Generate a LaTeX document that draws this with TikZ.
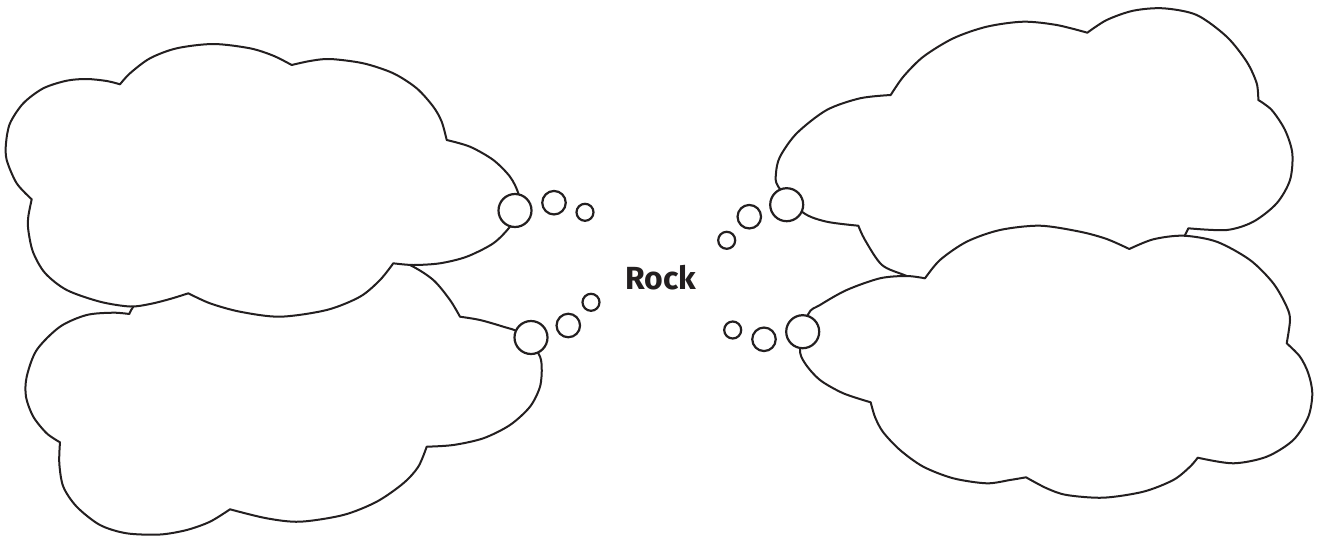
\documentclass[tikz,border=0pt]{standalone}
\usepackage{fontspec}
\setsansfont{Fira Sans}
\usepackage{xcolor}
\definecolor{inkblack}{RGB}{35,31,32}

\begin{document}
\begin{tikzpicture}[x=1pt, y=-1pt,
    cloud/.style={draw=inkblack, fill=white, line width=2pt, line join=round},
    bubble/.style={circle, draw=inkblack, fill=white, line width=2.2pt, inner sep=0pt},
    big/.style={bubble, minimum size=33pt},
    mid/.style={bubble, minimum size=23.5pt},
    small/.style={bubble, minimum size=17pt}]
  \useasboundingbox (0,0) rectangle (1317,536);

  % lower left cloud (behind)
  \draw[cloud] plot[smooth] coordinates {(129.3,314) (133.3,306.7) (150,285) (190,270) (250,266)}
    -- plot[smooth] coordinates {(250,266) (320,246) (375,251) (410,265) (433.3,280) (450,300) (460,316.7)}
    -- plot[smooth] coordinates {(460,316.7) (480,320) (503.3,326.7) (520,333) (538.3,353.3) (541.7,366.7) (540,386.7) (530,406.7) (510,425) (483.3,438.3) (453.3,445) (426.7,446.7)}
    -- plot[smooth] coordinates {(426.7,446.7) (418.3,466.7) (403.3,483.3) (376.7,501.7) (343.3,515) (300,521.7) (266.7,518.3) (230,509.3)}
    -- plot[smooth] coordinates {(230,509.3) (210,521.7) (186.7,530) (160,534.5) (126.7,533.3) (100,525) (76.7,506.7) (63.3,486.7) (59.3,463.3) (60,442.3)}
    -- plot[smooth] coordinates {(60,442.3) (46.7,433.3) (33.3,416.7) (26,396.7) (26.7,376.7) (36.7,350) (60,326.7) (86.7,315) (113.3,312.7) (129.3,314)}
    -- cycle;

  % upper left cloud
  \draw[cloud] plot[smooth] coordinates {(31.7,199.3) (16.7,183.3) (6.7,160) (6,143.3) (10,123.3) (23.3,103.3) (43.3,88.3) (66.7,80.7) (86.7,79) (106.7,81) (120,84.3)}
    -- plot[smooth] coordinates {(120,84.3) (130,73.3) (150,58.3) (176.7,48.3) (213.3,44) (250,48.3) (273.3,55.7) (291.7,65)}
    -- plot[smooth] coordinates {(291.7,65) (310,61) (330,59) (363.3,63.3) (393.3,73.3) (416.7,88.3) (433.3,106.7) (441.7,121.7) (446.7,140)}
    -- plot[smooth] coordinates {(446.7,140) (470,146.7) (493.3,160) (510,176.7) (518.3,193.3) (520,210) (510,226.7) (493.3,243.3) (466.7,256.7) (440,263.3) (413.3,265) (393.3,263.3)}
    -- plot[smooth] coordinates {(393.3,263.3) (380,280) (360,296.7) (326.7,310) (280,316.7) (240,311.7) (210,303.3) (188.3,293.3)}
    -- plot[smooth] coordinates {(188.3,293.3) (170,299) (150,304) (130,306.5) (100,301.7) (66.7,290) (45,273) (33,252) (28.3,230) (28.3,216.7) (31.7,199.3)}
    -- cycle;

  % upper right cloud (behind)
  \draw[cloud] plot[smooth] coordinates {(858.3,225.7) (826.7,221.7) (803.3,212.7) (778.3,186.7) (776,173.3) (780,156.7) (796.7,133.3) (826.7,110) (860,98.3) (890.7,95)}
    -- plot[smooth] coordinates {(890.7,95) (903.3,76.7) (923.3,56.7) (953.3,38.3) (986.7,26.7) (1023.3,21.7) (1056.7,25) (1087.3,32.7)}
    -- plot[smooth] coordinates {(1087.3,32.7) (1106.7,20) (1133.3,10.7) (1163.3,8.3) (1196.7,15) (1226.7,36.7) (1246.7,61.7) (1256.7,83.3) (1258.3,100)}
    -- plot[smooth] coordinates {(1258.3,100) (1271.7,110) (1285,130) (1292.3,153.3) (1290,180) (1276.7,203.3) (1253.3,221.7) (1226.7,230) (1188.3,228.3)}
    -- plot[smooth] coordinates {(1188.3,228.3) (1185,235) (1175,252) (1150,268) (1110,277) (1079,277)}
    -- plot[smooth] coordinates {(1079,277) (1000,296) (945,292) (906.7,276) (882,265) (865,240) (858.3,225.7)}
    -- cycle;

  % lower right cloud
  \draw[cloud] plot[smooth] coordinates {(870.7,402.3) (843.3,393.3) (820,380) (805,363.3) (800,348.3) (808.3,314) (820,305) (846.7,290) (880,278.3) (906.7,276) (925,278.3)}
    -- plot[smooth] coordinates {(925,278.3) (940,260) (966.7,241.7) (1000,230) (1040,225.7) (1080,231.7) (1106.7,239) (1129.3,249)}
    -- plot[smooth] coordinates {(1129.3,249) (1153.3,239.3) (1183.3,235.7) (1216.7,241.7) (1250,260) (1273.3,283.3) (1286.7,306.7) (1290,320) (1286.7,343.3)}
    -- plot[smooth] coordinates {(1286.7,343.3) (1300,356.7) (1308.3,373.3) (1312.3,393.3) (1308.3,416.7) (1293.3,440) (1266.7,456.7) (1233.3,463.3) (1197.7,457.7)}
    -- plot[smooth] coordinates {(1197.7,457.7) (1190,466.7) (1173.3,480) (1143.3,491.7) (1103.3,497.7) (1066.7,495) (1046.7,488.3) (1026,477.3)}
    -- plot[smooth] coordinates {(1026,477.3) (1010,480) (986.7,483.3) (953.3,478.3) (923.3,466.7) (900,450) (883,432) (875,417) (870.7,402.3)}
    -- cycle;

  % thought bubbles
  \node[big] (ula) at (515,210.5) {};
  \node[mid] (ulb) at (554,202.7) {};
  \node[small] (ulc) at (585,212.3) {};

  \node[big] (lla) at (531,337.5) {};
  \node[mid] (llb) at (568.3,325.5) {};
  \node[small] (llc) at (591,302.3) {};

  \node[big] (ura) at (786.7,204.7) {};
  \node[mid] (urb) at (749.3,216.7) {};
  \node[small] (urc) at (726.7,240.3) {};

  \node[big] (lra) at (802.7,331.7) {};
  \node[mid] (lrb) at (764,339.3) {};
  \node[small] (lrc) at (732.7,330) {};

  \node[font=\sffamily\bfseries\fontsize{32}{38}\selectfont, text=inkblack, inner sep=0pt] (rock) at (661,277.5) {Rock};
\end{tikzpicture}
\end{document}
